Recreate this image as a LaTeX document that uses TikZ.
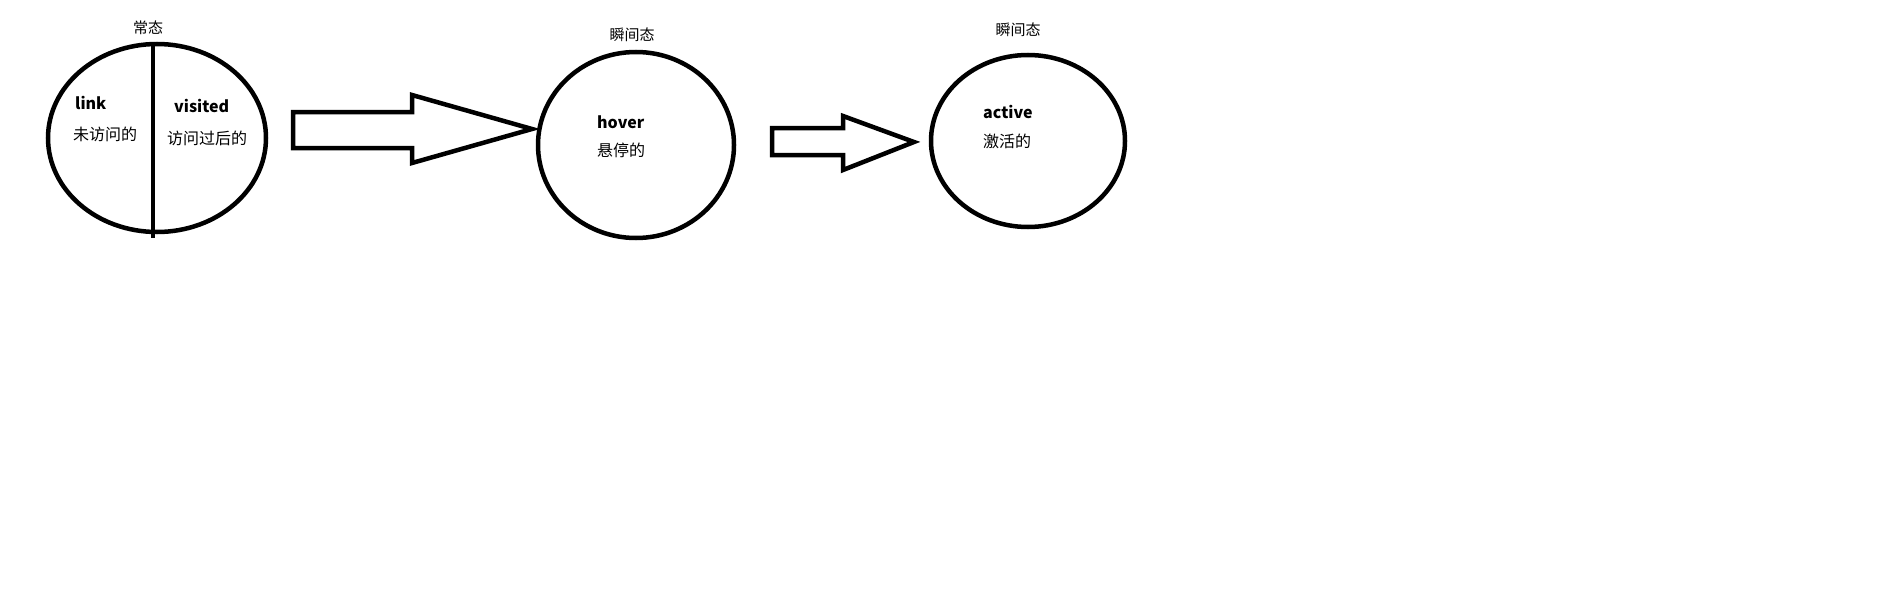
\documentclass[tikz,border=0pt]{standalone}
\usepackage{fontspec}
\setmainfont{Noto Sans CJK SC}
\usetikzlibrary{shapes.geometric}
\tikzset{
    state/.style={draw, ellipse, line width=4.5pt, inner sep=0pt},
    statename/.style={inner sep=0pt, font=\fontsize{15}{15}\selectfont},
    pseudo/.style={anchor=west, inner sep=0pt, font=\fontsize{16}{16}\selectfont\bfseries},
    meaning/.style={anchor=west, inner sep=0pt, font=\fontsize{16}{16}\selectfont},
    fatarrow/.style={draw, line width=4.5pt, miter limit=20}
}
\begin{document}
\begin{tikzpicture}[x=1pt, y=-1pt]
    \useasboundingbox (0, 0) rectangle (1904, 594);

    % States
    \node[state, minimum width=218pt, minimum height=188pt] (normal) at (157, 138) {};
    \node[state, minimum width=196pt, minimum height=186pt] (hover) at (636, 145) {};
    \node[state, minimum width=194pt, minimum height=172pt] (active) at (1028, 141) {};

    % Split of the first state
    \draw[line width=4pt] (153, 42) -- (153, 238);

    % Titles
    \node[statename] (normalname) at (148, 28) {常态};
    \node[statename] (hovername) at (632, 35) {瞬间态};
    \node[statename] (activename) at (1018, 30) {瞬间态};

    % Texts
    \node[pseudo] (link) at (75, 103) {link};
    \node[meaning] (linkcn) at (73, 134) {未访问的};
    \node[pseudo] (visited) at (174, 106) {visited};
    \node[meaning] (visitedcn) at (167, 138) {访问过后的};
    \node[pseudo] (hovertxt) at (597, 122) {hover};
    \node[meaning] (hovercn) at (597, 150) {悬停的};
    \node[pseudo] (activetxt) at (983, 112) {active};
    \node[meaning] (activecn) at (983, 141) {激活的};

    % Block arrows
    \coordinate (arrowA) at (293, 130);
    \coordinate (arrowB) at (772, 142);
    \draw[fatarrow] (arrowA) ++(0, -18) -- ++(119, 0) -- ++(0, -17) -- ++(120, 34)
        -- ++(-120, 34) -- ++(0, -15) -- ++(-119, 0) -- cycle;
    \draw[fatarrow] (arrowB) ++(0, -14) -- ++(71, 0) -- ++(0, -12) -- ++(71, 26)
        -- ++(-71, 28) -- ++(0, -15) -- ++(-71, 0) -- cycle;
\end{tikzpicture}
\end{document}
